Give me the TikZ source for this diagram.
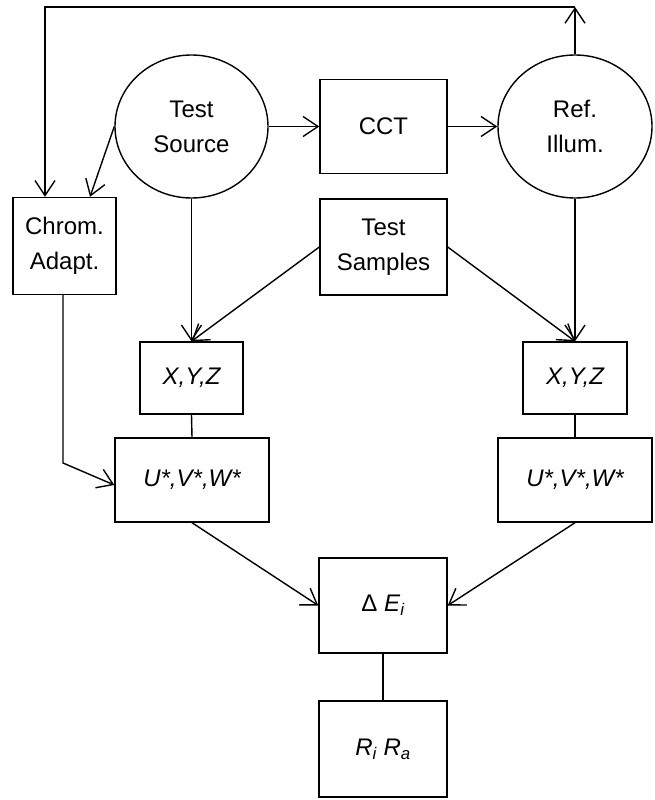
\documentclass[tikz,border=0pt]{standalone}
\usepackage{fontspec}
\setmainfont{Liberation Sans}
\usetikzlibrary{shapes.geometric,arrows.meta}
\begin{document}
\begin{tikzpicture}[x=1pt,y=-1pt,
  every node/.style={font=\fontsize{24}{35}\selectfont, align=center, inner sep=0pt, line width=1.4pt},
  boxnode/.style={draw, rectangle},
  ellnode/.style={draw, ellipse},
  conn/.style={line width=1.4pt},
  arr/.style={conn, -{Straight Barb[length=15pt,width=20pt,line width=1.4pt]}}]
\useasboundingbox (0,0) rectangle (654,800);
\node[ellnode, minimum width=153pt, minimum height=143pt] (ts) at (191.5,126.5) {Test\\Source};
\node[boxnode, minimum width=127pt, minimum height=94pt] (cct) at (383.5,126.5) {CCT};
\node[ellnode, minimum width=154pt, minimum height=143pt] (ref) at (575,126.5) {Ref.\\Illum.};
\node[boxnode, minimum width=103pt, minimum height=97pt] (chrom) at (64.5,246) {Chrom.\\Adapt.};
\node[boxnode, minimum width=127pt, minimum height=96pt] (samp) at (383.5,247) {Test\\Samples};
\node[boxnode, minimum width=103pt, minimum height=72pt] (xyz1) at (191.5,378) {\itshape X,Y,Z};
\node[boxnode, minimum width=104pt, minimum height=72pt] (xyz2) at (575,378) {\itshape X,Y,Z};
\node[boxnode, minimum width=154pt, minimum height=84pt] (uvw1) at (192,480) {\itshape U*,V*,W*};
\node[boxnode, minimum width=154pt, minimum height=84pt] (uvw2) at (575,480) {\itshape U*,V*,W*};
\node[boxnode, minimum width=128pt, minimum height=95pt] (de) at (383,605.5) {Δ \textit{E}\textsubscript{\itshape i}};
\node[boxnode, minimum width=128pt, minimum height=96pt] (rr) at (383,749) {\textit{R}\textsubscript{\itshape i} \textit{R}\textsubscript{\itshape a}};
\coordinate (ctr) at (575,7);
\coordinate (ctl) at (45,7);
\coordinate (cbend) at (63,463);
\draw[arr] (ts.east) -- (cct.west);
\draw[arr] (cct.east) -- (ref.west);
\draw[arr] (ref.north) -- (ctr);
\draw[arr] (ctr) -- (ctl) -- (ctl |- chrom.north);
\draw[arr] (ts.west) -- ([xshift=25.5pt]chrom.north);
\draw[arr] (ts.south) -- (xyz1.north);
\draw[arr] (samp.west) -- (xyz1.north);
\draw[arr] (samp.east) -- (xyz2.north);
\draw[arr] (ref.south) -- (xyz2.north);
\draw[conn] (xyz1.south) -- (uvw1.north);
\draw[conn] (xyz2.south) -- (uvw2.north);
\draw[arr] (chrom.south -| cbend) -- (cbend) -- ([yshift=-5pt]uvw1.west);
\draw[arr] (uvw1.south) -- (de.west);
\draw[arr] (uvw2.south) -- (de.east);
\draw[conn] (de.south) -- (rr.north);
\end{tikzpicture}
\end{document}
